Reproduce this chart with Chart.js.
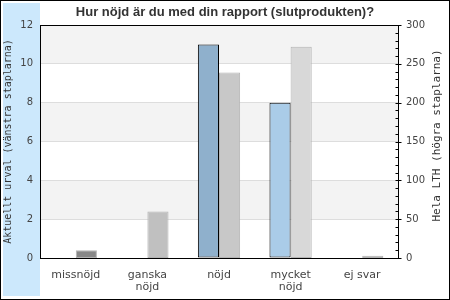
<!DOCTYPE html>
<html>
<head>
<meta charset="utf-8">
<script src="https://cdn.jsdelivr.net/npm/chart.js@4"></script>
<style>
  body { margin: 0; background: #fff; }
  canvas { display: block; }
</style>
</head>
<body>
<canvas id="chart" width="450" height="300"></canvas>
<script>
// --- Data ---
const categories = ['missnöjd', ['ganska', 'nöjd'], 'nöjd', ['mycket', 'nöjd'], 'ej svar'];
const urvalValues = [0, 0, 11, 8, 0];      // left axis
const lthValues = [10, 60, 239, 272, 3];   // right axis
const leftTicks = [0, 2, 4, 6, 8, 10, 12];
const rightTicks = [0, 50, 100, 150, 200, 250, 300];
const rightMinorStep = 10;

const urvalColors = ['#8fb0cc', '#8fb0cc', '#8fb0cc', '#aacce8', '#aacce8'];
const lthColors = ['#888888', '#c0c0c0', '#c8c8c8', '#d8d8d8', '#aaaaaa'];

// --- Background, bands, frame, right-axis ticks and title ---
const frame = {
    id: 'frame',
    beforeDraw(chart) {
        const { ctx, chartArea: a, scales } = chart;
        ctx.save();
        ctx.fillStyle = '#ffffff';
        ctx.fillRect(0, 0, chart.width, chart.height);
        ctx.fillStyle = '#cce8fc';
        ctx.fillRect(3, 3, 37, 293);
        // shaded bands 2-4, 6-8, 10-12
        ctx.fillStyle = '#f3f3f3';
        for (let i = 1; i < leftTicks.length - 1; i += 2) {
            const y1 = scales.y.getPixelForValue(leftTicks[i + 1]);
            const y0 = scales.y.getPixelForValue(leftTicks[i]);
            ctx.fillRect(a.left, y1, a.right - a.left, y0 - y1);
        }
        ctx.restore();
    },
    afterDraw(chart) {
        const { ctx, chartArea: a, scales } = chart;
        ctx.save();
        ctx.strokeStyle = '#000';
        ctx.lineWidth = 1;
        ctx.strokeRect(Math.round(a.left) + 0.5, Math.round(a.top) + 0.5,
            Math.round(a.right - a.left), Math.round(a.bottom - a.top));
        // right axis ticks
        ctx.beginPath();
        const r = Math.round(a.right) + 0.5;
        for (let v = 0; v <= rightTicks[rightTicks.length - 1]; v += rightMinorStep) {
            const y = Math.round(scales.y1.getPixelForValue(v)) + 0.5;
            const major = rightTicks.includes(v);
            ctx.moveTo(r - 3, y);
            ctx.lineTo(major ? r + 3 : r, y);
        }
        ctx.stroke();
        // right axis title, reading upwards
        ctx.fillStyle = '#333';
        ctx.font = '11px "DejaVu Sans Mono"';
        ctx.textAlign = 'center';
        ctx.textBaseline = 'middle';
        ctx.translate(437, (a.top + a.bottom) / 2 - 6);
        ctx.rotate(-Math.PI / 2);
        ctx.fillText('Hela LTH (högra staplarna)', 0, 0);
        ctx.restore();
        // outer border
        ctx.save();
        ctx.strokeStyle = '#000';
        ctx.strokeRect(0.5, 0.5, chart.width - 1, chart.height - 1);
        ctx.restore();
    }
};

new Chart(document.getElementById('chart'), {
    type: 'bar',
    data: {
        labels: categories,
        datasets: [
            {
                label: 'Aktuellt urval',
                data: urvalValues,
                yAxisID: 'y',
                backgroundColor: urvalColors,
                borderColor: '#000000',
                borderWidth: urvalValues.map(v => v > 0 ? 1 : 0),
                borderSkipped: false
            },
            {
                label: 'Hela LTH',
                data: lthValues,
                yAxisID: 'y1',
                backgroundColor: lthColors,
                borderColor: '#b4b4b4',
                borderWidth: 1,
                borderSkipped: false
            }
        ]
    },
    options: {
        responsive: false,
        animation: false,
        devicePixelRatio: 1,
        categoryPercentage: 0.59,
        barPercentage: 1,
        layout: { padding: 0 },
        plugins: {
            legend: { display: false },
            tooltip: { enabled: false },
            title: {
                display: true,
                text: 'Hur nöjd är du med din rapport (slutprodukten)?',
                color: '#333',
                font: { family: '"Liberation Sans", Arial, sans-serif', size: 13, weight: 'bold' },
                padding: { top: 4.4, bottom: 5 }
            }
        },
        scales: {
            x: {
                grid: { display: false, drawTicks: false },
                border: { display: false },
                ticks: {
                    color: '#444',
                    padding: 11,
                    font: { family: '"DejaVu Sans"', size: 11, lineHeight: 1.12 }
                },
                afterFit(scale) { scale.height = 42; }
            },
            y: {
                position: 'left',
                min: leftTicks[0],
                max: leftTicks[leftTicks.length - 1],
                grid: { color: '#dddddd', drawTicks: false },
                border: { display: false },
                ticks: {
                    stepSize: 2,
                    color: '#444',
                    padding: 7,
                    font: { family: '"DejaVu Sans"', size: 10 }
                },
                title: {
                    display: true,
                    text: 'Aktuellt urval (vänstra staplarna)',
                    color: '#333',
                    padding: { top: 2, bottom: 0 },
                    font: { family: '"DejaVu Sans Mono"', size: 10 }
                },
                afterFit(scale) { scale.width = 40; }
            },
            y1: {
                position: 'right',
                min: rightTicks[0],
                max: rightTicks[rightTicks.length - 1],
                grid: { display: false, drawTicks: false },
                border: { display: false },
                ticks: {
                    stepSize: 50,
                    color: '#444',
                    padding: 8,
                    font: { family: '"DejaVu Sans"', size: 10 }
                },
                afterFit(scale) { scale.width = 52; }
            }
        }
    },
    plugins: [frame]
});
</script>
</body>
</html>
